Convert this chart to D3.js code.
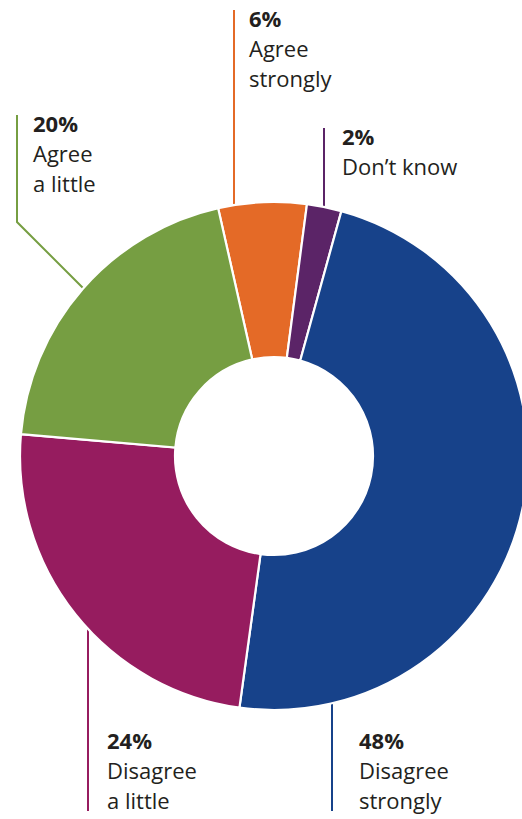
<!DOCTYPE html>
<html>
<head>
<meta charset="utf-8">
<script src="https://cdn.jsdelivr.net/npm/d3@7/dist/d3.min.js"></script>
<style>
  html, body { margin: 0; padding: 0; background: #ffffff; }
  svg { display: block; }
</style>
</head>
<body>
<svg id="chart" width="522" height="819"></svg>
<script>
// ---- Data ----
const categories = ["Agree strongly", "Don’t know", "Disagree strongly", "Disagree a little", "Agree a little"];
const values = [5.6, 2.2, 47.9, 24.2, 20.1];
const labelLines = [["Agree", "strongly"], ["Don’t know"], ["Disagree", "strongly"], ["Disagree", "a little"], ["Agree", "a little"]];
const colors = ["#e46a27", "#5b2467", "#17428a", "#961c5f", "#769e42"];

// ---- Layout ----
const W = 522, H = 819;
const cx = 274, cy = 456, rOuter = 254, rInner = 99;
const startDeg = -12.7;

// label placement: leader x, text x, first baseline y, leader far end y, leader type
const labelLayout = [
  { lx: 234, tx: 249, ty: 27,  ly: 10,  dir: "up" },
  { lx: 324, tx: 342, ty: 145, ly: 128, dir: "up" },
  { lx: 332, tx: 359, ty: 749, ly: 811, dir: "down" },
  { lx: 88,  tx: 107, ty: 749, ly: 811, dir: "down" },
  { lx: 17,  tx: 33,  ty: 132, ly: 115, dir: "elbow", elbowY: 222 }
];

const svg = d3.select("#chart");
const data = categories.map((c, i) => ({ cat: c, value: values[i], color: colors[i], lines: labelLines[i], lay: labelLayout[i] }));

const pie = d3.pie().sort(null).value(d => d.value)
  .startAngle(startDeg * Math.PI / 180)
  .endAngle(startDeg * Math.PI / 180 + 2 * Math.PI);
const arc = d3.arc().innerRadius(rInner).outerRadius(rOuter);

const lineW = 2;
// leader lines
const leaders = svg.append("g");
data.forEach(d => {
  const L = d.lay;
  let pts;
  if (L.dir === "up") {
    const yEdge = cy - Math.sqrt(rOuter * rOuter - (L.lx - cx) ** 2);
    pts = [[L.lx, L.ly], [L.lx, yEdge + 4]];
  } else if (L.dir === "down") {
    const yEdge = cy + Math.sqrt(rOuter * rOuter - (L.lx - cx) ** 2);
    pts = [[L.lx, L.ly], [L.lx, yEdge - 4]];
  } else {
    // vertical then 45° diagonal until the outer edge
    const x0 = L.lx, y0 = L.elbowY;
    const a = 2, b = 2 * ((x0 - cx) + (y0 - cy)), c = (x0 - cx) ** 2 + (y0 - cy) ** 2 - rOuter * rOuter;
    const t = (-b - Math.sqrt(b * b - 4 * a * c)) / (2 * a);
    pts = [[L.lx, L.ly], [x0, y0], [x0 + t + 3, y0 + t + 3]];
  }
  leaders.append("path")
    .attr("d", d3.line()(pts))
    .attr("fill", "none")
    .attr("stroke", d.color)
    .attr("stroke-width", lineW);
});

// donut
svg.append("g")
  .attr("transform", `translate(${cx},${cy})`)
  .selectAll("path")
  .data(pie(data))
  .join("path")
  .attr("d", arc)
  .attr("fill", d => d.data.color)
  .attr("stroke", "#ffffff")
  .attr("stroke-width", 2.2)
  .attr("stroke-linejoin", "miter");

// labels
const fontFam = "'Open Sans', 'Noto Sans', sans-serif";
const lh = 30;
data.forEach(d => {
  const L = d.lay;
  const t = svg.append("text")
    .attr("font-family", fontFam)
    .attr("fill", "#231f20")
    .attr("font-size", 22);
  t.append("tspan").attr("x", L.tx).attr("y", L.ty)
    .attr("font-weight", 700).text(Math.round(d.value) + "%");
  d.lines.forEach((ln, i) => {
    t.append("tspan").attr("x", L.tx).attr("y", L.ty + lh * (i + 1))
      .attr("font-weight", 400).text(ln);
  });
});
</script>
</body>
</html>
